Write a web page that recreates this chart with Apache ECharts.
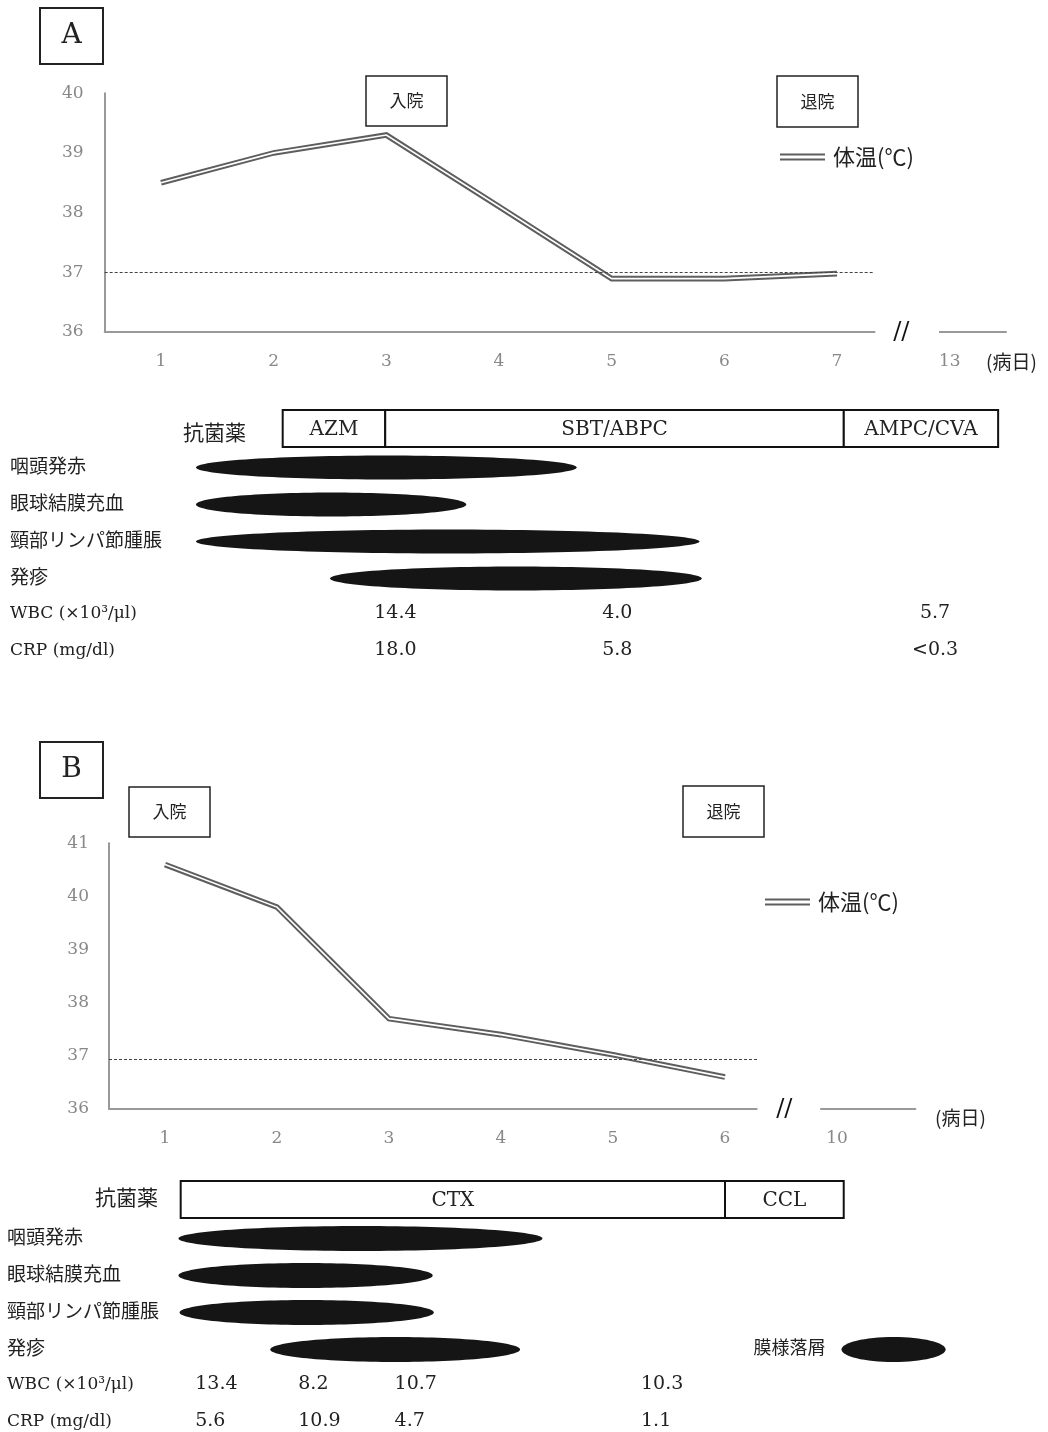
<!DOCTYPE html>
<html><head><meta charset="utf-8">
<script src="https://cdn.jsdelivr.net/npm/echarts@6/dist/echarts.min.js"></script>
<style>html,body{margin:0;padding:0;background:#fff}#c{width:1048px;height:1432px}</style>
</head><body><div id="c"></div>
<script>
// ---------- Panel A data ----------
const daysA = [1, 2, 3, 4, 5, 6, 7];
const tempA = [38.5, 39.0, 39.3, 38.1, 36.89, 36.89, 36.975];
const tickLabelsA = ['1', '2', '3', '4', '5', '6', '7', '13'];
const refTempA = 37;
const drugNamesA = ['AZM', 'SBT/ABPC', 'AMPC/CVA'];
const drugStartA = [2.08, 2.99, 7.06];
const drugEndA = [2.99, 7.06, 8.43];
const symStartA = [1.31, 1.31, 1.31, 2.50];
const symEndA = [4.69, 3.71, 5.78, 5.80];
const labPosA = [3.08, 5.05, 7.87];
const wbcA = ['14.4', '4.0', '5.7'];
const crpA = ['18.0', '5.8', '<0.3'];

// ---------- Panel B data ----------
const daysB = [1, 2, 3, 4, 5, 6];
const tempB = [40.6, 39.8, 37.7, 37.4, 37.02, 36.6];
const tickLabelsB = ['1', '2', '3', '4', '5', '6', '10'];
const refTempB = 36.93;
const drugNamesB = ['CTX', 'CCL'];
const drugStartB = [1.14, 6.0];
const drugEndB = [6.0, 7.06];
const symStartB = [1.12, 1.12, 1.13, 1.94];
const symEndB = [4.37, 3.39, 3.40, 4.17];
const desquamB = [7.04, 7.97];
const desquamLabel = '膜様落屑';
const labPosB = [1.27, 2.19, 3.05, 5.25];
const wbcB = ['13.4', '8.2', '10.7', '10.3'];
const crpB = ['5.6', '10.9', '4.7', '1.1'];

// ---------- shared labels ----------
const rowLabels = ['抗菌薬', '咽頭発赤', '眼球結膜充血', '頸部リンパ節腫脹', '発疹', 'WBC (×10³/μl)', 'CRP (mg/dl)'];
const legendName = '体温(℃)';
const dayUnit = '(病日)';

const SERIF = "'DejaVu Serif','Noto Sans CJK JP',serif";
const JP = "'Noto Sans CJK JP',sans-serif";
const LINE = '#5e5e5e';

const chart = echarts.init(document.getElementById('c'));

const stepA = 112.67, leftA = 104.67;
const stepB = 112, leftB = 109;
const maxA = 8.5, maxB = 7.7;
const rowH = 37;

function tempAxisX(gi, labels, max) {
  return {
    type: 'value', gridIndex: gi, min: 0.5, max: max,
    axisLine: {show: true, lineStyle: {color: '#999', width: 2}},
    axisTick: {show: false}, splitLine: {show: false},
    axisLabel: {
      customValues: labels.map((_, i) => i + 1),
      formatter: v => labels[Math.round(v) - 1] || '',
      margin: 21, fontSize: 17, fontFamily: SERIF, color: '#888'
    }
  };
}
function tempAxisY(gi, min, max, margin) {
  return {
    type: 'value', gridIndex: gi, min: min, max: max, interval: 1,
    axisLine: {show: true, lineStyle: {color: '#999', width: 2}},
    axisTick: {show: false}, splitLine: {show: false},
    axisLabel: {margin: margin, fontSize: 17, fontFamily: SERIF, color: '#888'}
  };
}
function tableAxisX(gi, max) {
  return {type: 'value', gridIndex: gi, min: 0.5, max: max, show: false};
}
function tableAxisY(gi, margin, max) {
  return {
    type: 'value', gridIndex: gi, inverse: true, min: -0.5, max: max,
    axisLine: {show: false}, axisTick: {show: false}, splitLine: {show: false},
    axisLabel: {
      customValues: [1, 2, 3, 4, 5, 6], align: 'left', margin: margin,
      formatter: v => {
        const i = Math.round(v);
        return i >= 5 ? '{l|' + rowLabels[i] + '}' : '{j|' + rowLabels[i] + '}';
      },
      rich: {
        j: {fontFamily: JP, fontSize: 19, color: '#222'},
        l: {fontFamily: SERIF, fontSize: 17, color: '#222'}
      }
    }
  };
}

function txtStyle(o) {
  return Object.assign({
    align: o.align || 'center', textAlign: o.align || 'center',
    verticalAlign: 'middle', textVerticalAlign: 'middle',
    fill: '#222'
  }, o);
}

function drugRender(names) {
  return function (params, api) {
    const a = api.coord([api.value(0), api.value(2)]);
    const b = api.coord([api.value(1), api.value(2)]);
    const h = 37;
    return {type: 'group', children: [
      {type: 'rect', shape: {x: a[0], y: a[1] - h / 2, width: b[0] - a[0], height: h},
        style: {fill: '#fff', stroke: '#111', lineWidth: 2}},
      {type: 'text', style: txtStyle({text: names[params.dataIndex], x: (a[0] + b[0]) / 2, y: a[1] + 1,
        fontSize: 20, fontFamily: SERIF})}
    ]};
  };
}
function ellipseRender(h, label) {
  return function (params, api) {
    const a = api.coord([api.value(0), api.value(2)]);
    const b = api.coord([api.value(1), api.value(2)]);
    const children = [{type: 'ellipse', shape: {cx: (a[0] + b[0]) / 2, cy: a[1] + 2, rx: (b[0] - a[0]) / 2, ry: h / 2},
      style: {fill: '#151515'}}];
    if (label) {
      children.push({type: 'text', style: txtStyle({text: label, x: a[0] - 16, y: a[1], align: 'right',
        fontSize: 18, fontFamily: JP})});
    }
    return {type: 'group', children: children};
  };
}
function valueRender(texts, align) {
  return function (params, api) {
    const p = api.coord([api.value(0), api.value(1)]);
    return {type: 'text', style: txtStyle({text: texts[params.dataIndex], x: p[0], y: p[1],
      align: align, fontSize: 19, fontFamily: SERIF})};
  };
}

function tempSeries(xi, days, temps, ref, refEnd) {
  const data = days.map((d, i) => [d, temps[i]]);
  return [
    {type: 'line', name: legendName, xAxisIndex: xi, yAxisIndex: xi, data: data,
      color: LINE, itemStyle: {color: LINE},
      showSymbol: false, symbol: 'none', silent: true,
      lineStyle: {color: LINE, width: 5.6, join: 'miter'},
      markLine: {silent: true, symbol: ['none', 'none'], label: {show: false},
        lineStyle: {type: [3, 2], color: '#444', width: 1},
        data: [[{coord: [0.5, ref]}, {coord: [refEnd, ref]}]]}
    },
    {type: 'line', name: 'inner', xAxisIndex: xi, yAxisIndex: xi, data: data,
      showSymbol: false, symbol: 'none', silent: true, z: 3,
      lineStyle: {color: '#fff', width: 1.6, join: 'miter'}}
  ];
}

const option = {
  animation: false,
  backgroundColor: '#fff',
  legend: [
    {left: 780, top: 146, padding: 0, selectedMode: false, data: [legendName],
      icon: 'path://M0,0H45V2H0Z M0,5H45V7H0Z', itemWidth: 45, itemHeight: 7,
      textStyle: {fontSize: 22, fontFamily: JP, color: '#222', padding: [0, 0, 0, 3]}},
    {left: 765, top: 891, padding: 0, selectedMode: false, data: [legendName],
      icon: 'path://M0,0H45V2H0Z M0,5H45V7H0Z', itemWidth: 45, itemHeight: 7,
      textStyle: {fontSize: 22, fontFamily: JP, color: '#222', padding: [0, 0, 0, 3]}}
  ],
  grid: [
    {left: leftA, top: 93.3, width: stepA * (maxA - 0.5), height: 238.4},
    {left: leftA, top: 410, width: stepA * (maxA - 0.5), height: rowH * 7},
    {left: leftB, top: 843.3, width: stepB * (maxB - 0.5), height: 265.7},
    {left: leftB, top: 1181, width: stepB * (maxB - 0.5), height: rowH * 6.5}
  ],
  xAxis: [
    tempAxisX(0, tickLabelsA, maxA),
    tableAxisX(1, maxA),
    tempAxisX(2, tickLabelsB, maxB),
    tableAxisX(3, maxB)
  ],
  yAxis: [
    tempAxisY(0, 36, 40, 21),
    tableAxisY(1, leftA - 10, 6.5),
    tempAxisY(2, 36, 41, 20),
    tableAxisY(3, leftB - 7, 6)
  ],
  series: [].concat(
    tempSeries(0, daysA, tempA, refTempA, 7.32),
    tempSeries(2, daysB, tempB, refTempB, 6.3),
    [
      {type: 'custom', xAxisIndex: 1, yAxisIndex: 1, encode: {x: [0, 1], y: 2},
        data: drugStartA.map((s, i) => [s, drugEndA[i], 0]), renderItem: drugRender(drugNamesA)},
      {type: 'custom', xAxisIndex: 1, yAxisIndex: 1, encode: {x: [0, 1], y: 2},
        data: symStartA.map((s, i) => [s, symEndA[i], i + 1]), renderItem: ellipseRender(24)},
      {type: 'custom', xAxisIndex: 1, yAxisIndex: 1, encode: {x: 0, y: 1},
        data: labPosA.map(p => [p, 5]).concat(labPosA.map(p => [p, 6])),
        renderItem: valueRender(wbcA.concat(crpA), 'center')},
      {type: 'custom', xAxisIndex: 3, yAxisIndex: 3, encode: {x: [0, 1], y: 2},
        data: drugStartB.map((s, i) => [s, drugEndB[i], 0]), renderItem: drugRender(drugNamesB)},
      {type: 'custom', xAxisIndex: 3, yAxisIndex: 3, encode: {x: [0, 1], y: 2},
        data: symStartB.map((s, i) => [s, symEndB[i], i + 1]), renderItem: ellipseRender(25)},
      {type: 'custom', xAxisIndex: 3, yAxisIndex: 3, encode: {x: [0, 1], y: 2},
        data: [[desquamB[0], desquamB[1], 4]], renderItem: ellipseRender(25, desquamLabel)},
      {type: 'custom', xAxisIndex: 3, yAxisIndex: 3, encode: {x: 0, y: 1},
        data: labPosB.map(p => [p, 5]).concat(labPosB.map(p => [p, 6])),
        renderItem: valueRender(wbcB.concat(crpB), 'left')}
    ]
  )
};
chart.setOption(option);

// ---------- annotations ----------
function box(x, y, w, h, text, fs, font, lw) {
  return {type: 'group', z: 100, children: [
    {type: 'rect', shape: {x: x, y: y, width: w, height: h}, style: {fill: '#fff', stroke: '#222', lineWidth: lw}},
    {type: 'text', style: txtStyle({text: text, x: x + w / 2, y: y + h / 2, fontSize: fs, fontFamily: font, fill: '#222'})}
  ]};
}
function label(x, y, text, fs, font, align) {
  return {type: 'text', z: 100, style: txtStyle({text: text, x: x, y: y, fontSize: fs, fontFamily: font, align: align || 'left'})};
}
function axisBreak(gi, b0, b1, mid) {
  const p0 = chart.convertToPixel({gridIndex: gi}, [b0, 36]);
  const p1 = chart.convertToPixel({gridIndex: gi}, [b1, 36]);
  const pm = chart.convertToPixel({gridIndex: gi}, [mid, 36]);
  return [
    {type: 'rect', z: 100, shape: {x: p0[0], y: p0[1] - 4, width: p1[0] - p0[0], height: 8}, style: {fill: '#fff'}},
    {type: 'text', z: 101, style: txtStyle({text: '//', x: pm[0], y: pm[1] + 1, fontSize: 24, fontFamily: SERIF, fill: '#111'})}
  ];
}

const graphics = [
  box(40, 8, 63, 56, 'A', 28, SERIF, 2),
  box(40, 742, 63, 56, 'B', 28, SERIF, 2),
  box(366, 76, 81, 50, '入院', 17, JP, 1.5),
  box(777, 76, 81, 51, '退院', 17, JP, 1.5),
  box(129, 787, 81, 50, '入院', 17, JP, 1.5),
  box(683, 786, 81, 51, '退院', 17, JP, 1.5),
  label(183, 432, rowLabels[0], 21, JP),
  label(95, 1197, rowLabels[0], 21, JP),
  label(986, 362, dayUnit, 19, JP),
  label(935, 1118, dayUnit, 19, JP)
].concat(axisBreak(0, 7.34, 7.905, 7.57), axisBreak(2, 6.29, 6.85, 6.53));

chart.setOption({graphic: graphics});
</script></body></html>
